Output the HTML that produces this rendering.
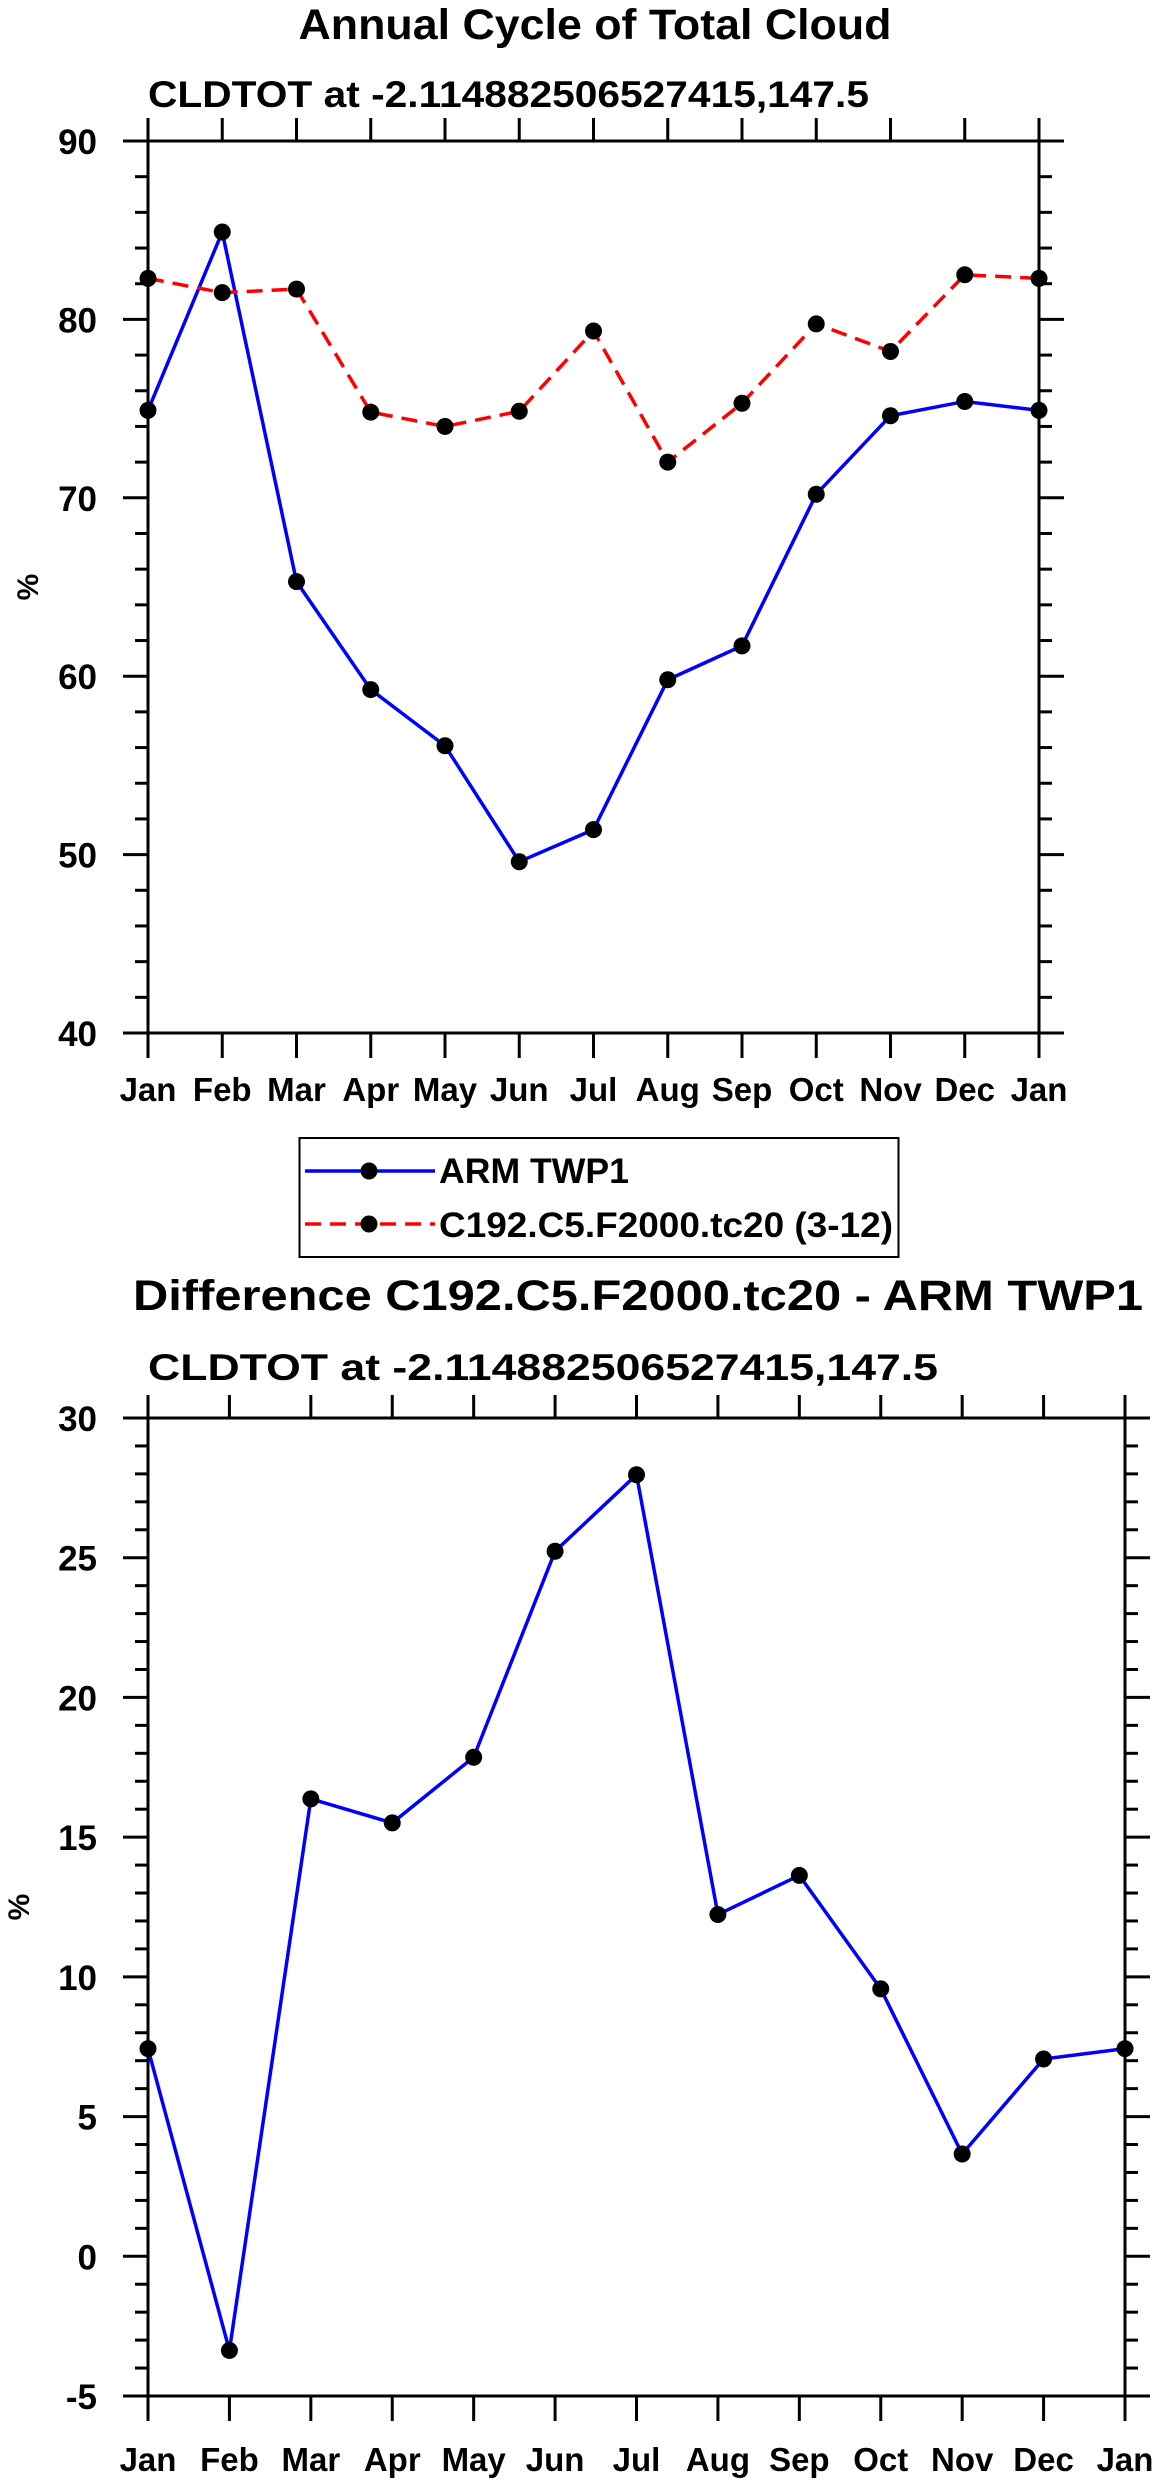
<!DOCTYPE html>
<html><head><meta charset="utf-8"><style>
html,body{margin:0;padding:0;background:#fff;}
svg{display:block;font-family:"Liberation Sans",Arial,sans-serif;font-weight:bold;}
</style></head><body>
<svg id="svg" width="1158" height="2483" viewBox="0 0 1158 2483" xmlns="http://www.w3.org/2000/svg">
<text x="595" y="39" font-size="43" text-anchor="middle" textLength="593" lengthAdjust="spacingAndGlyphs">Annual Cycle of Total Cloud</text>
<text x="148" y="107" font-size="37" textLength="721" lengthAdjust="spacingAndGlyphs">CLDTOT at -2.114882506527415,147.5</text>
<g id="c1"></g>
<g>
<rect x="299.5" y="1138" width="599" height="119" fill="none" stroke="#000" stroke-width="2"/>
<g>
<line x1="305" y1="1171" x2="435" y2="1171" stroke="#0000ff" stroke-width="3.5"/>
<circle cx="369" cy="1171" r="8.5" fill="#000"/>
<text x="439" y="1183" font-size="35" textLength="190" lengthAdjust="spacingAndGlyphs">ARM TWP1</text>
</g>
<g>
<line x1="305" y1="1224" x2="435" y2="1224" stroke="#ff0000" stroke-width="3.5" stroke-dasharray="16,9"/>
<circle cx="369" cy="1224" r="8.5" fill="#000"/>
<text x="439" y="1237" font-size="35" textLength="454" lengthAdjust="spacingAndGlyphs">C192.C5.F2000.tc20 (3-12)</text>
</g>
</g>
<text x="638" y="1310" font-size="43" text-anchor="middle" textLength="1010" lengthAdjust="spacingAndGlyphs">Difference C192.C5.F2000.tc20 - ARM TWP1</text>
<text x="148" y="1380" font-size="37" textLength="790" lengthAdjust="spacingAndGlyphs">CLDTOT at -2.114882506527415,147.5</text>
<g id="c2"></g>
</svg>
<script>
const months = ["Jan","Feb","Mar","Apr","May","Jun","Jul","Aug","Sep","Oct","Nov","Dec","Jan"];
const armValues = [74.9,84.9,65.3,59.25,56.1,49.6,51.4,59.8,61.7,70.2,74.6,75.4,74.9];
const modelValues = [82.3,81.5,81.7,74.8,74.0,74.85,79.35,72.0,75.3,79.75,78.2,82.5,82.3];
const diffValues = [7.43,-3.37,16.37,15.51,17.86,25.23,27.97,12.23,13.63,9.57,3.66,7.06,7.43];
const yTicks1 = [40,50,60,70,80,90];
const yTicks2 = [-5,0,5,10,15,20,25,30];

const NS = "http://www.w3.org/2000/svg";
function mk(parent, tag, attrs) {
  const e = document.createElementNS(NS, tag);
  for (const k in attrs) e.setAttribute(k, attrs[k]);
  parent.appendChild(e);
  return e;
}
function drawChart(g, cfg) {
  const L=cfg.left,R=cfg.right,T=cfg.top,B=cfg.bottom;
  const xs = i => L + (R-L)*i/(months.length-1);
  const ys = v => B - (B-T)*(v-cfg.ymin)/(cfg.ymax-cfg.ymin);
  const fr = mk(g,'rect',{x:L,y:T,width:R-L,height:B-T,fill:'none',stroke:'#000','stroke-width':3});
  
  
  for (let v=cfg.ymin; v<=cfg.ymax+1e-9; v+=cfg.minor) {
    const y = ys(v);
    const isMajor = cfg.ticks.some(t=>Math.abs(t-v)<1e-9);
    const len = isMajor?25:13;
    const t1 = mk(g,'line',{x1:L-len,y1:y,x2:L,y2:y,stroke:'#000','stroke-width':3});
    
    
    const t2 = mk(g,'line',{x1:R,y1:y,x2:R+len,y2:y,stroke:'#000','stroke-width':3});
    
    
  }
  cfg.ticks.forEach(v=>{
    const t = mk(g,'text',{x:97,y:ys(v)+13,'font-size':35,'text-anchor':'end'});
    t.textContent = String(v);
    
    
  });
  months.forEach((m,i)=>{
    const x = xs(i);
    const a = mk(g,'line',{x1:x,y1:B,x2:x,y2:B+25,stroke:'#000','stroke-width':3});
    
    
    const b = mk(g,'line',{x1:x,y1:T-23,x2:x,y2:T,stroke:'#000','stroke-width':3});
    
    
    const t = mk(g,'text',{x:x,y:cfg.xlabelY,'font-size':33,'text-anchor':'middle'});
    t.textContent = m;
    
    
  });
  const yl = mk(g,'text',{x:0,y:0,'font-size':30,'text-anchor':'middle',transform:`translate(${cfg.ylabelX},${(T+B)/2}) rotate(-90)`});
  yl.textContent='%';
  
  
  cfg.series.forEach(s=>{
    const pts = s.values.map((v,i)=>xs(i)+','+ys(v)).join(' ');
    const pl = mk(g,'polyline',{points:pts,fill:'none',stroke:s.color,'stroke-width':3.5,'stroke-dasharray':s.dash||'none'});
    
    
    s.values.forEach((v,i)=>{
      const c = mk(g,'circle',{cx:xs(i),cy:ys(v),r:8.5,fill:'#000'});
      
      
    });
  });
}
drawChart(document.getElementById('c1'),{left:148,right:1039,top:141,bottom:1033,ymin:40,ymax:90,minor:2,ticks:yTicks1,xlabelY:1101,ylabelX:38,
  series:[{name:'arm-twp1',values:armValues,color:'#0000ff'},{name:'model',values:modelValues,color:'#ff0000',dash:'16,9'}]});
drawChart(document.getElementById('c2'),{left:148,right:1125,top:1418,bottom:2396,ymin:-5,ymax:30,minor:1,ticks:yTicks2,xlabelY:2471,ylabelX:29,
  series:[{name:'difference',values:diffValues,color:'#0000ff'}]});
</script>
</body></html>
